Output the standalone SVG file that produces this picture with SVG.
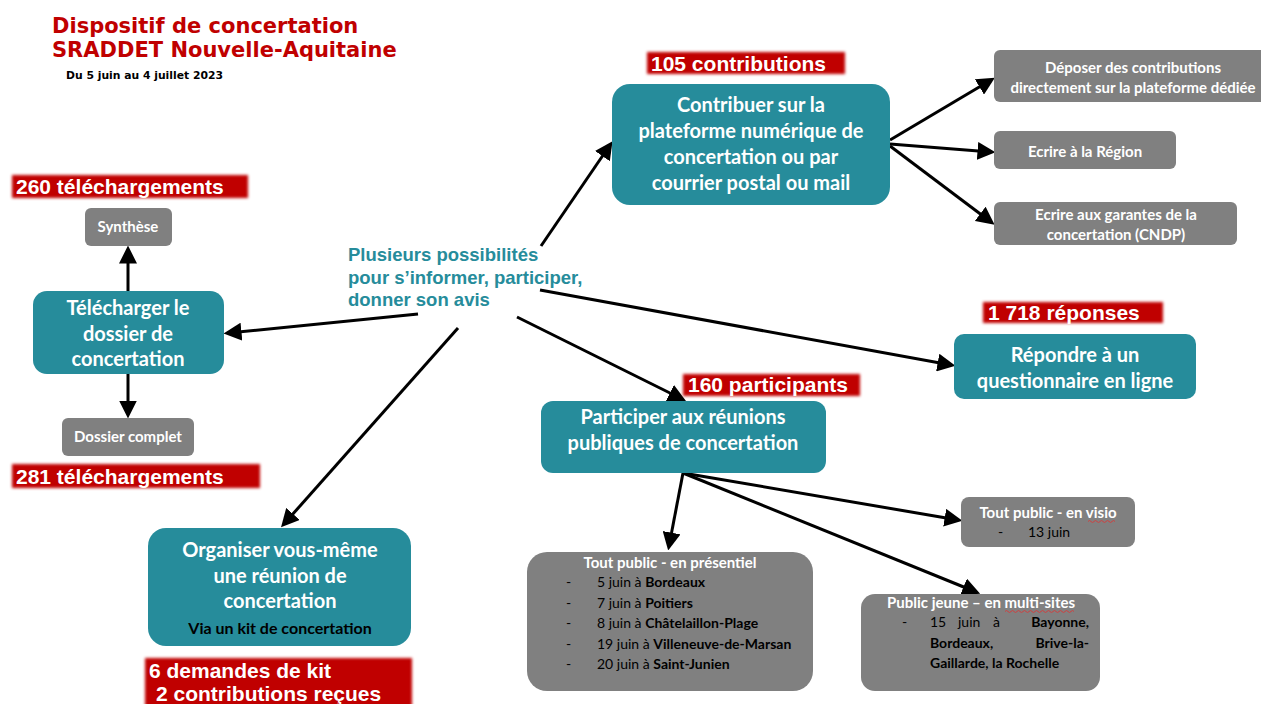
<svg xmlns="http://www.w3.org/2000/svg" width="1261" height="704" viewBox="0 0 1261 704">
<style>
.title{font-family:"DejaVu Sans",Verdana,sans-serif;font-weight:bold;fill:#c00000;font-size:21px}
.sub{font-family:"DejaVu Sans",Verdana,sans-serif;font-weight:bold;fill:#000;font-size:10.8px}
.teal{fill:#268c9b}
.grey{fill:#808080}
.tt{font-family:Lato,"Open Sans",sans-serif;font-weight:bold;fill:#fff;font-size:20px;text-anchor:middle}
.gt{font-family:Lato,"Open Sans",sans-serif;font-weight:bold;fill:#fff;font-size:15px;text-anchor:middle}
.bt{font-family:Lato,"Open Sans",sans-serif;fill:#000;font-size:14px}
.b{font-weight:bold}
.rl{font-family:"Liberation Sans",Arial,sans-serif;font-weight:bold;fill:#fff;font-size:21px}
.ct{font-family:"Liberation Sans",Arial,sans-serif;font-weight:bold;fill:#268c9b;font-size:18.5px}
.conn line{stroke:#000;stroke-width:3;marker-end:url(#ah)}
.red{fill:#c00000;filter:url(#glow)}
</style>
<defs>
<marker id="ah" markerWidth="6" markerHeight="6" refX="4.5" refY="3" orient="auto" markerUnits="strokeWidth">
<path d="M0,0 L6,3 L0,6 Z" fill="#000"/>
</marker>
<filter id="glow" x="-10%" y="-30%" width="120%" height="160%">
<feGaussianBlur stdDeviation="1.8"/>
</filter>
</defs>
<rect width="1261" height="704" fill="#fff"/>

<g id="title">
<text class="title" x="52" y="33">Dispositif de concertation</text>
<text class="title" x="52" y="57">SRADDET Nouvelle-Aquitaine</text>
<text class="sub" x="66" y="79">Du 5 juin au 4 juillet 2023</text>
</g>

<g class="conn" id="connectors">
<line x1="541" y1="246" x2="610" y2="145"/>
<line x1="540" y1="290" x2="951" y2="365"/>
<line x1="517" y1="317" x2="682" y2="399"/>
<line x1="458" y1="328" x2="284" y2="524"/>
<line x1="418" y1="314" x2="228" y2="333"/>
<line x1="128" y1="291" x2="128" y2="250"/>
<line x1="128" y1="374" x2="128" y2="414"/>
<line x1="890" y1="140" x2="991" y2="80"/>
<line x1="890" y1="144" x2="991" y2="152"/>
<line x1="890" y1="146" x2="991" y2="222"/>
<line x1="683" y1="473" x2="669" y2="546"/>
<line x1="683" y1="473" x2="958" y2="520"/>
<line x1="683" y1="473" x2="976" y2="592"/>
</g>

<g id="center">
<text class="ct" x="348" y="261">Plusieurs possibilités</text>
<text class="ct" x="348" y="284">pour s’informer, participer,</text>
<text class="ct" x="348" y="306">donner son avis</text>
</g>

<g id="contribuer">
<rect class="teal" x="612" y="84" width="278" height="121" rx="18"/>
<text class="tt" x="751" y="112">Contribuer sur la</text>
<text class="tt" x="751" y="138">plateforme numérique de</text>
<text class="tt" x="751" y="164">concertation ou par</text>
<text class="tt" x="751" y="190">courrier postal ou mail</text>
</g>
<g id="lbl-105">
<rect class="red" x="647" y="52" width="198" height="22"/>
<text class="rl" x="651" y="71">105 contributions</text>
</g>

<g id="deposer">
<rect class="grey" x="994" y="50" width="275" height="52" rx="6"/>
<text class="gt" x="1133" y="73">Déposer des contributions</text>
<text class="gt" x="1133" y="93">directement sur la plateforme dédiée</text>
</g>
<g id="region">
<rect class="grey" x="994" y="131" width="182" height="38" rx="6"/>
<text class="gt" x="1085" y="157">Ecrire à la Région</text>
</g>
<g id="garantes">
<rect class="grey" x="994" y="202" width="243" height="43" rx="6"/>
<text class="gt" x="1116" y="220">Ecrire aux garantes de la</text>
<text class="gt" x="1116" y="240">concertation (CNDP)</text>
</g>

<g id="telecharger">
<rect class="teal" x="33" y="291" width="191" height="83" rx="14"/>
<text class="tt" x="128" y="315">Télécharger le</text>
<text class="tt" x="128" y="341">dossier de</text>
<text class="tt" x="128" y="366">concertation</text>
</g>
<g id="synthese">
<rect class="grey" x="85" y="208" width="87" height="38" rx="6"/>
<text class="gt" x="128" y="232">Synthèse</text>
</g>
<g id="dossier">
<rect class="grey" x="62" y="418" width="132" height="38" rx="6"/>
<text class="gt" x="128" y="442">Dossier complet</text>
</g>
<g id="lbl-260">
<rect class="red" x="12" y="175" width="236" height="23"/>
<text class="rl" x="16" y="194">260 téléchargements</text>
</g>
<g id="lbl-281">
<rect class="red" x="12" y="464" width="248" height="24"/>
<text class="rl" x="16" y="484">281 téléchargements</text>
</g>

<g id="organiser">
<rect class="teal" x="148" y="528" width="263" height="118" rx="18"/>
<text class="tt" x="280" y="557">Organiser vous-même</text>
<text class="tt" x="280" y="583">une réunion de</text>
<text class="tt" x="280" y="608">concertation</text>
<text class="tt" x="280" y="634" style="fill:#000;font-size:16px">Via un kit de concertation</text>
</g>
<g id="lbl-kit">
<rect class="red" x="145" y="658" width="267" height="50"/>
<text class="rl" x="149" y="678">6 demandes de kit</text>
<text class="rl" x="156" y="701">2 contributions reçues</text>
</g>

<g id="participer">
<rect class="teal" x="541" y="401" width="285" height="72" rx="12"/>
<text class="tt" x="683" y="424">Participer aux réunions</text>
<text class="tt" x="683" y="450">publiques de concertation</text>
</g>
<g id="lbl-160">
<rect class="red" x="683" y="374" width="177" height="22"/>
<text class="rl" x="688" y="392">160 participants</text>
</g>

<g id="repondre">
<rect class="teal" x="954" y="334" width="242" height="65" rx="10"/>
<text class="tt" x="1075" y="362">Répondre à un</text>
<text class="tt" x="1075" y="388">questionnaire en ligne</text>
</g>
<g id="lbl-1718">
<rect class="red" x="983" y="302" width="180" height="21"/>
<text class="rl" x="988" y="320">1 718 réponses</text>
</g>

<g id="presentiel">
<rect class="grey" x="527" y="552" width="286" height="139" rx="20"/>
<text class="gt" x="670" y="568">Tout public - en présentiel</text>
<text class="bt" x="566" y="587">-</text><text class="bt" x="597" y="587">5 juin à <tspan class="b">Bordeaux</tspan></text>
<text class="bt" x="566" y="608">-</text><text class="bt" x="597" y="608">7 juin à <tspan class="b">Poitiers</tspan></text>
<text class="bt" x="566" y="628">-</text><text class="bt" x="597" y="628">8 juin à <tspan class="b">Châtelaillon-Plage</tspan></text>
<text class="bt" x="566" y="649">-</text><text class="bt" x="597" y="649">19 juin à <tspan class="b">Villeneuve-de-Marsan</tspan></text>
<text class="bt" x="566" y="669">-</text><text class="bt" x="597" y="669">20 juin à <tspan class="b">Saint-Junien</tspan></text>
</g>

<g id="visio">
<rect class="grey" x="961" y="497" width="174" height="50" rx="8"/>
<text class="gt" x="1048" y="518">Tout public - en visio</text>
<path d="M1088,521.5 q1.5,-2 3,0 t3,0 t3,0 t3,0 t3,0 t3,0 t3,0 t3,0 t3,0" fill="none" stroke="#d04040" stroke-width="1"/>
<text class="bt" x="998" y="537">-</text><text class="bt" x="1028" y="537">13 juin</text>
</g>

<g id="multisites">
<rect class="grey" x="861" y="594" width="239" height="97" rx="14"/>
<text class="gt" x="887" y="608" style="text-anchor:start">Public jeune – en multi-sites</text>
<path d="M1005,611.5 q1.5,-2 3,0 t3,0 t3,0 t3,0 t3,0 t3,0 t3,0 t3,0 t3,0 t3,0 t3,0 t3,0 t3,0 t3,0 t3,0 t3,0 t3,0 t3,0 t3,0 t3,0 t3,0 t3,0 t3,0" fill="none" stroke="#d04040" stroke-width="1"/>
<text class="bt" x="902" y="627">-</text>
<text class="bt" x="930" y="627">15</text><text class="bt" x="958" y="627">juin</text><text class="bt" x="993" y="627">à</text><text class="bt b" x="1089" y="627" style="text-anchor:end">Bayonne,</text>
<text class="bt b" x="930" y="648">Bordeaux,</text><text class="bt b" x="1089" y="648" style="text-anchor:end">Brive-la-</text>
<text class="bt b" x="930" y="668">Gaillarde, la Rochelle</text>
</g>
</svg>
